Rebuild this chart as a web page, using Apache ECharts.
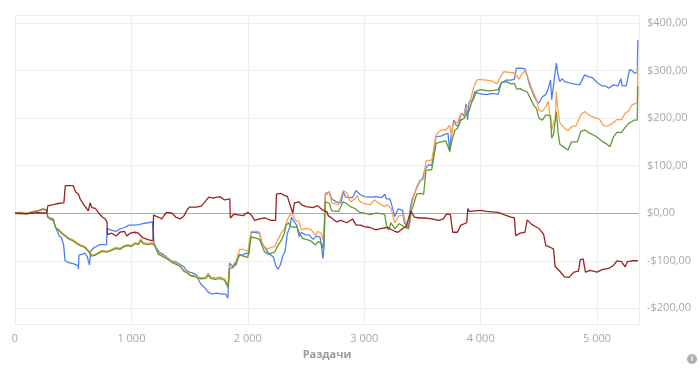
<!DOCTYPE html>
<html><head><meta charset="utf-8">
<script src="https://cdn.jsdelivr.net/npm/echarts@6/dist/echarts.min.js"></script>
<style>html,body{margin:0;padding:0;background:#fff}#c{width:700px;height:368px}</style>
</head><body><div id="c"></div>
<script>
const xTicks = [0, 1000, 2000, 3000, 4000, 5000];
const yTicks = [-200, -100, 0, 100, 200, 300, 400];
const xName = 'Раздачи';
const yName = 'Выигрыш';

const redData = [[0,0],[100,-1],[200,1],[270,0],[283,16],[330,18],[380,21],[420,22],[432,58],[500,58],[520,45],[545,40],[560,30],[590,18],[610,12],[630,5],[645,22],[660,12],[690,10],[720,0],[750,-8],[775,-12],[790,-18],[795,-45],[830,-42],[870,-48],[900,-40],[940,-38],[960,-48],[990,-42],[1030,-40],[1060,-42],[1100,-52],[1150,-56],[1185,-58],[1190,-4],[1230,-8],[1260,-12],[1300,2],[1350,0],[1380,-8],[1420,-12],[1450,-6],[1480,8],[1500,13],[1560,13],[1600,15],[1665,34],[1700,32],[1760,35],[1800,28],[1845,30],[1850,-10],[1880,-2],[1930,-4],[1960,-5],[2000,2],[2030,-4],[2060,-15],[2100,-12],[2150,-10],[2200,-15],[2238,-15],[2246,40],[2280,42],[2310,38],[2340,35],[2386,0],[2400,22],[2440,24],[2460,18],[2500,14],[2560,12],[2600,16],[2640,7],[2680,3],[2690,-5],[2720,-10],[2760,-18],[2800,-15],[2850,-20],[2900,-12],[2930,-25],[2970,-25],[3000,-28],[3050,-30],[3100,-35],[3150,-32],[3200,-30],[3260,-38],[3290,-40],[3330,-32],[3360,-28],[3400,5],[3430,-8],[3470,-10],[3520,-10],[3580,-12],[3640,-15],[3680,-12],[3705,-2],[3740,-3],[3760,-40],[3800,-40],[3830,-25],[3880,-20],[3890,10],[3900,4],[3950,5],[4000,6],[4050,4],[4100,3],[4150,2],[4200,-3],[4260,-8],[4290,-10],[4300,-47],[4340,-42],[4380,-40],[4400,-14],[4440,-24],[4470,-28],[4500,-32],[4540,-44],[4560,-68],[4600,-72],[4625,-75],[4640,-112],[4680,-122],[4720,-134],[4760,-135],[4800,-124],[4840,-122],[4855,-98],[4880,-96],[4900,-124],[4940,-120],[5000,-124],[5050,-118],[5100,-116],[5140,-110],[5170,-100],[5210,-102],[5240,-113],[5260,-102],[5300,-100],[5350,-100]];

const blueData = [[0,0],[50,2],[100,-1],[150,3],[200,5],[240,8],[275,6],[280,-7],[300,-10],[330,-12],[343,-26],[380,-48],[400,-52],[418,-67],[430,-100],[460,-104],[500,-106],[540,-110],[545,-117],[550,-88],[580,-86],[600,-84],[620,-91],[640,-109],[650,-80],[680,-72],[700,-70],[730,-66],[760,-66],[787,-66],[790,-32],[830,-36],[870,-38],[900,-33],[940,-30],[980,-25],[1020,-25],[1060,-24],[1100,-22],[1140,-20],[1180,-18],[1195,-62],[1210,-72],[1240,-82],[1270,-86],[1300,-92],[1340,-100],[1380,-102],[1420,-108],[1450,-112],[1470,-120],[1500,-124],[1530,-126],[1560,-130],[1580,-142],[1600,-150],[1630,-157],[1660,-166],[1690,-170],[1730,-168],[1780,-170],[1810,-170],[1828,-179],[1843,-105],[1870,-112],[1900,-108],[1920,-87],[1950,-88],[1990,-84],[2010,-86],[2028,-40],[2060,-40],[2100,-42],[2120,-62],[2140,-70],[2180,-85],[2220,-92],[2240,-110],[2260,-118],[2280,-108],[2300,-90],[2320,-80],[2340,-42],[2360,-30],[2375,-8],[2390,-15],[2420,-25],[2440,-49],[2460,-40],[2490,-45],[2530,-46],[2560,-55],[2590,-48],[2620,-50],[2635,-74],[2645,-95],[2655,-70],[2665,38],[2700,45],[2720,30],[2760,24],[2800,22],[2820,45],[2840,34],[2900,33],[2930,48],[2960,40],[3000,35],[3060,34],[3100,35],[3150,33],[3176,40],[3190,30],[3220,30],[3240,14],[3262,-7],[3290,9],[3330,6],[3345,-21],[3380,-30],[3395,10],[3410,28],[3450,53],[3480,68],[3500,72],[3520,91],[3550,102],[3580,100],[3617,161],[3660,162],[3690,166],[3720,168],[3734,130],[3750,170],[3770,196],[3790,185],[3810,183],[3830,210],[3860,207],[3875,230],[3888,196],[3900,234],[3930,238],[3950,256],[3980,252],[4020,250],[4060,250],[4100,252],[4150,250],[4177,274],[4220,280],[4260,280],[4290,282],[4307,305],[4340,305],[4380,304],[4400,288],[4420,270],[4440,258],[4460,245],[4480,236],[4500,232],[4530,245],[4560,250],[4580,262],[4600,280],[4610,239],[4627,240],[4650,316],[4665,290],[4680,277],[4700,283],[4720,277],[4760,274],[4800,272],[4850,270],[4893,291],[4930,287],[4960,285],[5000,275],[5040,268],[5070,268],[5100,263],[5140,270],[5180,268],[5205,283],[5215,268],[5250,268],[5279,302],[5300,300],[5320,295],[5345,296],[5350,365]];

const orangeData = [[0,1],[50,2],[100,0],[150,4],[200,6],[240,8],[275,7],[280,-7],[300,-10],[330,-15],[350,-30],[380,-35],[400,-40],[430,-46],[460,-52],[500,-56],[530,-62],[560,-66],[600,-70],[630,-78],[660,-88],[690,-86],[720,-82],[750,-78],[790,-80],[830,-76],[870,-72],[900,-74],[940,-68],[970,-66],[1000,-68],[1030,-62],[1060,-64],[1080,-54],[1100,-62],[1140,-64],[1180,-62],[1200,-66],[1230,-84],[1260,-88],[1290,-92],[1320,-96],[1350,-102],[1390,-106],[1420,-110],[1450,-120],[1480,-124],[1510,-130],[1540,-131],[1570,-134],[1600,-136],[1640,-134],[1660,-126],[1680,-134],[1720,-136],[1760,-134],[1800,-138],[1830,-150],[1843,-112],[1870,-110],[1900,-100],[1930,-76],[1960,-76],[2000,-80],[2028,-38],[2080,-38],[2100,-40],[2120,-63],[2140,-70],[2170,-75],[2200,-72],[2230,-70],[2260,-55],[2290,-40],[2310,-35],[2330,-20],[2350,-8],[2360,-3],[2390,-4],[2410,-15],[2440,-18],[2460,-35],[2500,-32],[2540,-34],[2580,-46],[2600,-38],[2630,-42],[2645,-56],[2655,-30],[2665,43],[2700,45],[2720,22],[2780,18],[2820,48],[2850,43],[2880,24],[2920,30],[2940,37],[2960,25],[3000,20],[3050,18],[3090,28],[3120,22],[3176,14],[3200,18],[3230,10],[3262,-20],[3300,-5],[3340,-5],[3360,-25],[3390,-22],[3405,14],[3420,30],[3450,56],[3480,70],[3510,72],[3530,110],[3580,112],[3617,165],[3660,175],[3700,175],[3734,185],[3750,161],[3760,185],[3780,193],[3800,190],[3830,210],[3860,203],[3880,224],[3900,228],[3920,245],[3940,265],[3970,281],[4000,281],[4050,280],[4100,278],[4140,272],[4177,290],[4200,298],[4250,296],[4290,295],[4330,282],[4350,292],[4380,299],[4400,290],[4430,268],[4460,250],[4480,239],[4500,217],[4530,214],[4560,225],[4580,235],[4590,215],[4610,175],[4625,190],[4640,196],[4650,256],[4660,225],[4680,190],[4720,179],[4750,174],[4780,182],[4820,184],[4860,207],[4893,214],[4940,205],[4990,200],[5020,198],[5050,186],[5080,183],[5110,186],[5140,190],[5170,197],[5210,197],[5240,210],[5270,215],[5300,228],[5320,230],[5345,232],[5350,309]];

const greenData = [[0,-1],[50,0],[100,-2],[150,2],[200,5],[240,9],[275,7],[280,-8],[300,-12],[330,-16],[350,-31],[380,-37],[400,-42],[430,-48],[460,-54],[500,-58],[530,-64],[560,-68],[600,-72],[630,-80],[660,-90],[690,-88],[720,-84],[750,-80],[790,-82],[830,-78],[870,-74],[900,-76],[940,-70],[970,-68],[1000,-70],[1030,-64],[1060,-66],[1080,-57],[1100,-64],[1140,-66],[1180,-64],[1200,-68],[1230,-86],[1260,-90],[1290,-94],[1320,-98],[1350,-104],[1390,-108],[1420,-112],[1450,-122],[1480,-126],[1510,-132],[1540,-133],[1570,-136],[1600,-138],[1640,-137],[1660,-130],[1680,-137],[1720,-139],[1760,-137],[1800,-141],[1830,-156],[1843,-116],[1870,-115],[1900,-104],[1930,-88],[1960,-90],[2000,-93],[2028,-50],[2080,-53],[2100,-55],[2120,-66],[2140,-80],[2170,-86],[2200,-84],[2230,-82],[2260,-67],[2290,-56],[2310,-45],[2330,-25],[2350,-20],[2370,-28],[2400,-30],[2420,-28],[2440,-40],[2470,-53],[2500,-55],[2540,-58],[2580,-67],[2600,-60],[2630,-62],[2645,-74],[2655,-50],[2665,24],[2700,21],[2720,5],[2780,4],[2820,24],[2850,20],[2880,14],[2920,10],[2960,2],[3000,0],[3050,-3],[3100,0],[3150,-1],[3176,-3],[3190,-25],[3210,-35],[3230,-20],[3262,-33],[3300,-22],[3340,-28],[3380,-33],[3405,5],[3420,15],[3450,40],[3480,42],[3510,40],[3530,90],[3580,92],[3617,147],[3660,150],[3700,152],[3720,140],[3734,130],[3750,150],[3780,175],[3800,178],[3830,196],[3860,200],[3880,210],[3900,215],[3920,232],[3940,242],[3970,258],[4000,260],[4050,258],[4100,258],[4150,260],[4177,275],[4220,277],[4260,272],[4290,273],[4310,261],[4340,262],[4370,258],[4400,255],[4430,240],[4460,225],[4480,220],[4500,200],[4530,196],[4560,207],[4600,205],[4610,158],[4625,165],[4640,165],[4650,214],[4665,170],[4680,145],[4720,138],[4750,133],[4780,150],[4830,150],[4860,172],[4893,175],[4940,168],[4990,162],[5020,156],[5050,150],[5080,146],[5110,140],[5140,160],[5170,170],[5210,170],[5240,180],[5270,189],[5300,193],[5320,196],[5345,196],[5350,267]];

const colors = {blue:'#4f7ff5', orange:'#fca24f', green:'#5f9a35', red:'#982222'};

function fmtX(v){ return String(Math.round(v)).replace(/\B(?=(\d{3})+(?!\d))/g,' '); }
function fmtY(v){ return (v<0?'-':'') + '$' + Math.abs(v).toFixed(2).replace('.',','); }

const chart = echarts.init(document.getElementById('c'), null, {renderer:'canvas'});
function line(name, data, color, z){
  return {name, type:'line', data, showSymbol:false, symbol:'none', z,
    lineStyle:{color, width:1.3}, itemStyle:{color}, animation:false};
}
const series = [
  line('blue', blueData, colors.blue, 3),
  line('orange', orangeData, colors.orange, 4),
  line('green', greenData, colors.green, 5),
  line('red', redData, colors.red, 6)
];
series[0].markLine = {silent:true, symbol:'none', label:{show:false},
  lineStyle:{color:'#aaaaaa', width:1, type:'solid'}, data:[{yAxis:0}], z:1};

chart.setOption({
  animation:false,
  grid:{left:15, right:61, top:15, bottom:44, containLabel:false, outerBoundsMode:'none'},
  xAxis:{type:'value', min:0, max:5360, interval:1000,
    name:xName, nameLocation:'middle', nameGap:24,
    nameTextStyle:{color:'#9a9a9a', fontWeight:'bold', fontSize:11, fontFamily:'Open Sans'},
    axisLine:{show:false}, axisTick:{show:false},
    axisLabel:{color:'#a8a8a8', fontSize:11, fontFamily:'Open Sans', margin:9, showMaxLabel:false,
      formatter:v=> xTicks.includes(v)?fmtX(v):''},
    splitLine:{show:true, lineStyle:{color:'#eeeeee', width:1}}},
  yAxis:{type:'value', position:'right', min:-233, max:417, splitNumber:6,
    name:yName, nameLocation:'middle', nameRotate:90, nameGap:50,
    nameTextStyle:{color:'#9a9a9a', fontWeight:'bold', fontSize:11, fontFamily:'Open Sans'},
    axisLine:{show:false}, axisTick:{show:false},
    axisLabel:{color:'#a8a8a8', fontSize:11, fontFamily:'Open Sans', margin:8,
      showMinLabel:false, showMaxLabel:false,
      formatter:v=> yTicks.includes(v)?fmtY(v):''},
    splitLine:{show:true, lineStyle:{color:'#eeeeee', width:1}}},
  series,
  graphic:[{type:'group', right:3, bottom:4, children:[
    {type:'circle', shape:{cx:5, cy:5, r:5}, style:{fill:'#b0b0b0'}},
    {type:'text', x:5, y:5, style:{text:'i', fill:'#fff', font:'bold 8px sans-serif', align:'center', verticalAlign:'middle'}}
  ]}]
});
</script></body></html>
